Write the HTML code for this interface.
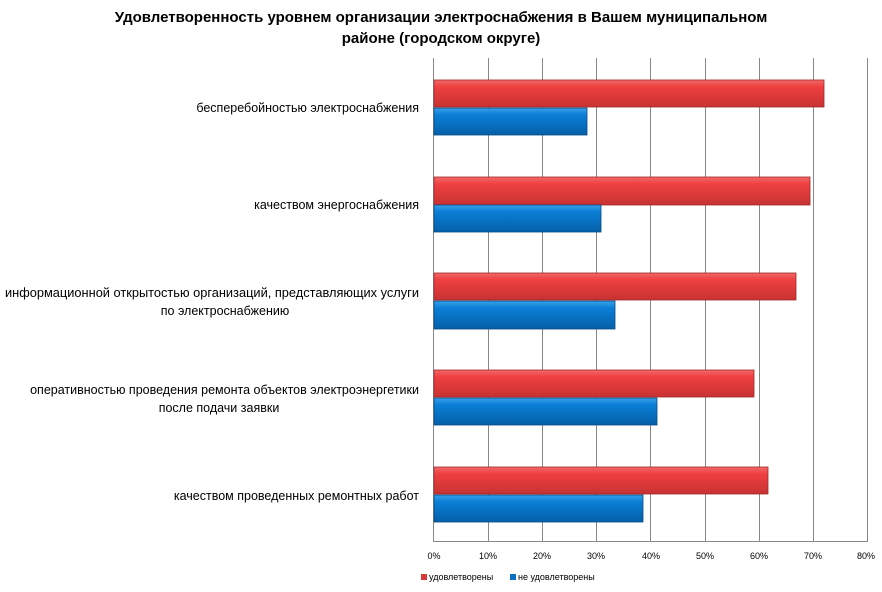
<!DOCTYPE html>
<html><head><meta charset="utf-8"><style>
body{margin:0;background:#fff;width:882px;height:587px;overflow:hidden;font-family:"Liberation Sans","DejaVu Sans",sans-serif}
</style></head><body>
<svg width="882" height="587" xmlns="http://www.w3.org/2000/svg" font-family="Liberation Sans, DejaVu Sans, sans-serif">
<defs>
<linearGradient id="r" x1="0" y1="0" x2="0" y2="1"><stop offset="0" stop-color="#f26a6a"/><stop offset="0.25" stop-color="#ef4040"/><stop offset="1" stop-color="#c83232"/></linearGradient>
<linearGradient id="b" x1="0" y1="0" x2="0" y2="1"><stop offset="0" stop-color="#3aa0e8"/><stop offset="0.25" stop-color="#0a7fd6"/><stop offset="1" stop-color="#0560a8"/></linearGradient>
</defs>
<text x="441" y="22" text-anchor="middle" font-size="15" font-weight="bold">Удовлетворенность уровнем организации электроснабжения в Вашем муниципальном</text>
<text x="441" y="43" text-anchor="middle" font-size="15" font-weight="bold">районе (городском округе)</text>
<g stroke="#888" stroke-width="1">
<line x1="433.5" y1="58" x2="433.5" y2="542"/><line x1="488.5" y1="58" x2="488.5" y2="542"/><line x1="542.5" y1="58" x2="542.5" y2="542"/><line x1="596.5" y1="58" x2="596.5" y2="542"/><line x1="650.5" y1="58" x2="650.5" y2="542"/><line x1="705.5" y1="58" x2="705.5" y2="542"/><line x1="759.5" y1="58" x2="759.5" y2="542"/><line x1="813.5" y1="58" x2="813.5" y2="542"/><line x1="867.5" y1="58" x2="867.5" y2="542"/>
<line x1="433" y1="541.5" x2="867" y2="541.5"/>
</g>
<g stroke-width="0.8">
<rect x="434" y="80" width="390" height="27" fill="url(#r)" stroke="#a02828"/>
<rect x="434" y="108" width="153" height="27" fill="url(#b)" stroke="#044a85"/>
<rect x="434" y="177" width="376" height="28" fill="url(#r)" stroke="#a02828"/>
<rect x="434" y="205" width="167" height="27" fill="url(#b)" stroke="#044a85"/>
<rect x="434" y="273" width="362" height="27" fill="url(#r)" stroke="#a02828"/>
<rect x="434" y="301" width="181" height="28" fill="url(#b)" stroke="#044a85"/>
<rect x="434" y="370" width="320" height="27" fill="url(#r)" stroke="#a02828"/>
<rect x="434" y="398" width="223" height="27" fill="url(#b)" stroke="#044a85"/>
<rect x="434" y="467" width="334" height="27" fill="url(#r)" stroke="#a02828"/>
<rect x="434" y="495" width="209" height="27" fill="url(#b)" stroke="#044a85"/>
</g>
<g font-size="12.5" text-anchor="end" fill="#000">
<text x="419" y="112">бесперебойностью  электроснабжения</text>
<text x="419" y="209">качеством энергоснабжения</text>
<text x="419" y="297" textLength="414" lengthAdjust="spacingAndGlyphs">информационной открытостью организаций, представляющих услуги</text>
<text x="225" y="315" text-anchor="middle">по электроснабжению</text>
<text x="419" y="394">оперативностью проведения ремонта  объектов электроэнергетики</text>
<text x="219" y="412" text-anchor="middle">после подачи заявки</text>
<text x="419" y="500">качеством проведенных ремонтных  работ</text>
</g>
<g font-size="9" text-anchor="middle">
<text x="434" y="559">0%</text><text x="488" y="559">10%</text><text x="542" y="559">20%</text><text x="596" y="559">30%</text><text x="651" y="559">40%</text><text x="705" y="559">50%</text><text x="759" y="559">60%</text><text x="813" y="559">70%</text><text x="866" y="559">80%</text>
</g>
<rect x="421" y="574" width="6" height="6" fill="#d83a3a"/>
<text x="429" y="580" font-size="9">удовлетворены</text>
<rect x="510" y="574" width="6" height="6" fill="#0a70c0"/>
<text x="518" y="580" font-size="9">не удовлетворены</text>
</svg>
</body></html>
